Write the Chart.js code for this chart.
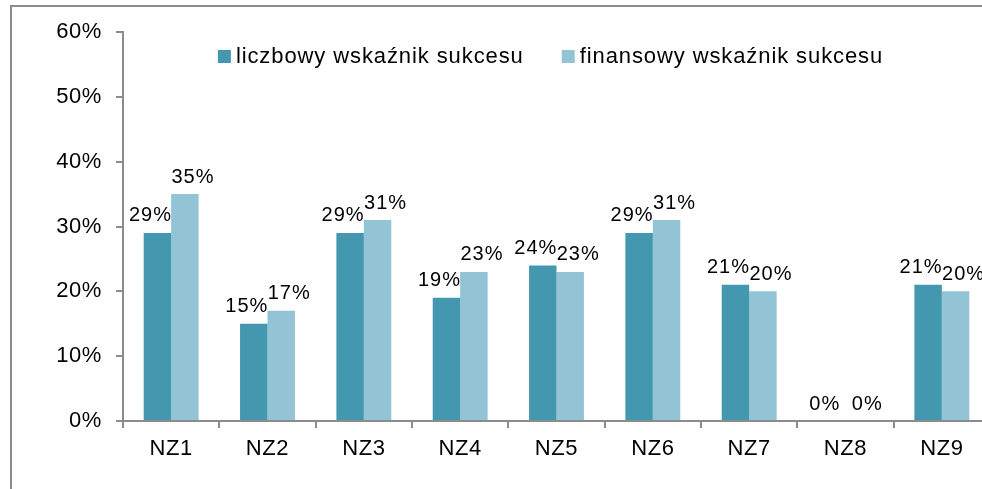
<!DOCTYPE html>
<html>
<head>
<meta charset="utf-8">
<script src="https://cdn.jsdelivr.net/npm/chart.js@4"></script>
<style>
  html, body { margin: 0; padding: 0; background: #fff; overflow: hidden; }
  #wrap { position: relative; width: 1000px; height: 489px; }
  #frame { position: absolute; left: 10px; top: 5px; width: 990px; height: 490px;
           border-left: 2px solid #8c8c8c; border-top: 2px solid #8c8c8c; box-sizing: border-box; }
  canvas { position: absolute; left: 0; top: 0; }
</style>
</head>
<body>
<div id="wrap">
  <div id="frame"></div>
  <canvas id="chart" width="1000" height="489"></canvas>
</div>
<script>
// ===== DATA =====
const categories = ['NZ1', 'NZ2', 'NZ3', 'NZ4', 'NZ5', 'NZ6', 'NZ7', 'NZ8', 'NZ9'];
const liczbowy = [29, 15, 29, 19, 24, 29, 21, 0, 21];
const finansowy = [35, 17, 31, 23, 23, 31, 20, 0, 20];
const seriesNames = ['liczbowy wskaźnik sukcesu', 'finansowy wskaźnik sukcesu'];
const yTicks = [0, 10, 20, 30, 40, 50, 60];

const FONT = '"Liberation Sans", Arial, sans-serif';

// the reference text is a bit wider than Arial, so spread letters slightly
const wideText = {
    id: 'wideText',
    beforeDraw(chart) {
        chart.ctx.letterSpacing = '0.6px';
    }
};

// value over each bar, nudged apart like the original
const barLabels = {
    id: 'barLabels',
    afterDatasetsDraw(chart) {
        const ctx = chart.ctx;
        ctx.save();
        ctx.font = '20px ' + FONT;
        ctx.letterSpacing = '1px';
        ctx.fillStyle = '#000';
        ctx.textAlign = 'center';
        ctx.textBaseline = 'bottom';
        chart.data.datasets.forEach((ds, i) => {
            const dx = i === 0 ? -7 : 8;
            chart.getDatasetMeta(i).data.forEach((bar, j) => {
                ctx.fillText(ds.data[j] + '%', bar.x + dx, bar.y - 7);
            });
        });
        ctx.restore();
    }
};

// legend drawn inside the plot, near the top
const innerLegend = {
    id: 'innerLegend',
    afterDraw(chart) {
        const ctx = chart.ctx;
        const area = chart.chartArea;
        ctx.save();
        ctx.font = '22px ' + FONT;
        ctx.letterSpacing = '0.9px';
        ctx.textBaseline = 'middle';
        ctx.textAlign = 'left';
        const box = 13, gap = 5, itemGap = 38;
        const widths = chart.data.datasets.map(ds => ctx.measureText(ds.label).width);
        const total = widths.reduce((a, w) => a + box + gap + w, 0) + itemGap * (widths.length - 1);
        let x = (area.left + area.right) / 2 - total / 2 - 6;
        const y = 57;
        chart.data.datasets.forEach((ds, i) => {
            ctx.fillStyle = ds.backgroundColor;
            ctx.fillRect(x, y - 7, box, box);
            ctx.fillStyle = '#000';
            ctx.fillText(ds.label, x + box + gap, y);
            x += box + gap + widths[i] + itemGap;
        });
        ctx.restore();
    }
};

new Chart(document.getElementById('chart'), {
    type: 'bar',
    data: {
        labels: categories,
        datasets: [
            { label: seriesNames[0], data: liczbowy, backgroundColor: '#4398b0' },
            { label: seriesNames[1], data: finansowy, backgroundColor: '#93c4d6' }
        ]
    },
    options: {
        responsive: false,
        animation: false,
        layout: { padding: { top: 32, right: 10, left: 0, bottom: 0 } },
        datasets: { bar: { categoryPercentage: 0.57, barPercentage: 1.0 } },
        plugins: {
            legend: { display: false },
            tooltip: { enabled: false }
        },
        scales: {
            y: {
                min: 0,
                max: 60,
                afterBuildTicks: scale => { scale.ticks = yTicks.map(v => ({ value: v })); },
                afterFit: scale => { scale.width = 123; },
                ticks: {
                    callback: v => v + '%',
                    font: { family: FONT, size: 22 },
                    color: '#000',
                    padding: 14
                },
                grid: { drawOnChartArea: false, tickLength: 7, color: '#8c8c8c', lineWidth: 2 },
                border: { color: '#8c8c8c', width: 2 }
            },
            x: {
                afterFit: scale => { scale.height = 68; },
                ticks: {
                    font: { family: FONT, size: 22 },
                    color: '#000',
                    padding: 8
                },
                grid: { offset: true, drawOnChartArea: false, tickLength: 7, color: '#8c8c8c', lineWidth: 2 },
                border: { color: '#8c8c8c', width: 2 }
            }
        }
    },
    plugins: [wideText, barLabels, innerLegend]
});
</script>
</body>
</html>
